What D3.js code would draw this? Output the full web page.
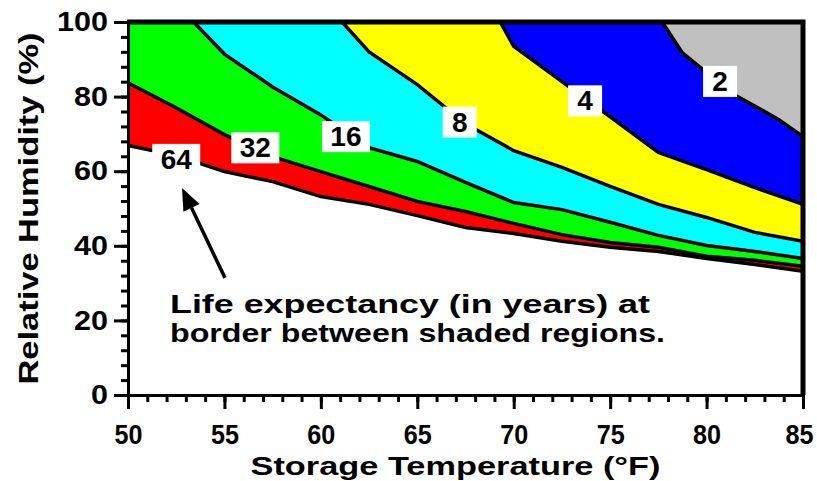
<!DOCTYPE html>
<html>
<head>
<meta charset="utf-8">
<script src="https://cdn.jsdelivr.net/npm/d3@7"></script>
<style>
body { margin: 0; background: #fff; }
svg { display: block; }
text { font-family: "Liberation Sans", Arial, sans-serif; font-weight: bold; }
</style>
</head>
<body>
<svg id="chart" width="817" height="481"></svg>
<script>
// life expectancy borders: temperature (F) -> relative humidity (%)
var temp64 = [50, 52.5, 55, 57.5, 60, 62.5, 65, 67.5, 70, 72.5, 75, 77.5, 80, 82.5, 85];
var rh64   = [66.9, 64.2, 59.9, 57.2, 53.2, 51.1, 48.1, 44.9, 43.3, 41.2, 39.6, 38.5, 36.6, 35.0, 33.2];
var temp32 = [50, 52.5, 55, 57.5, 60, 62.5, 65, 67.5, 70, 72.5, 75, 77.5, 80, 82.5, 85];
var rh32   = [83.7, 77.0, 69.8, 63.9, 59.9, 55.9, 51.9, 49.2, 46.0, 43.0, 40.9, 39.6, 37.2, 36.1, 34.5];
var temp16 = [53.4, 55, 57.5, 60, 62.5, 65, 67.5, 70, 72.5, 75, 77.5, 80, 82.5, 85];
var rh16   = [100, 91.4, 82.6, 75.1, 66.3, 62.6, 57.0, 51.6, 49.7, 46.3, 42.8, 40.1, 38.5, 36.6];
var temp8  = [61.1, 62.5, 65, 67.5, 70, 72.5, 75, 77.5, 80, 82.5, 85];
var rh8    = [100, 92.0, 83.2, 72.7, 65.5, 61.0, 55.9, 51.1, 47.6, 43.6, 41.2];
var temp4  = [69.3, 70, 72.5, 75, 77.5, 80, 82.5, 85];
var rh4    = [100, 93.5, 84.0, 74.6, 65.0, 60.4, 55.6, 51.1];
var temp2  = [77.7, 78.75, 80, 81.25, 82.5, 83.75, 85];
var rh2    = [100, 91.7, 86.4, 81.0, 77.5, 73.8, 69.3];

var lifeYears  = ["64", "32", "16", "8", "4", "2"];
var bandColors = ["#ff0000", "#00ff00", "#00ffff", "#ffff00", "#0000ff", "#c0c0c0"];
// where each number label sits (temperature, humidity)
var labelTemp = [52.5, 56.6, 61.3, 67.2, 73.7, 80.7];
var labelRh   = [63.3, 66.4, 69.4, 73.3, 79.0, 84.2];

var xTicks = [50, 55, 60, 65, 70, 75, 80, 85];
var yTicks = [0, 20, 40, 60, 80, 100];

var temps = [temp64, temp32, temp16, temp8, temp4, temp2];
var rhs = [rh64, rh32, rh16, rh8, rh4, rh2];
var curves = temps.map(function (t, i) {
    return t.map(function (v, j) { return {t: v, rh: rhs[i][j]}; });
});

var svg = d3.select("#chart");
var x = d3.scaleLinear().domain([50, 85]).range([128, 803]);
var y = d3.scaleLinear().domain([0, 100]).range([395, 22]);

svg.append("clipPath").attr("id", "plot")
    .append("rect")
    .attr("x", x(50)).attr("y", y(100))
    .attr("width", x(85) - x(50)).attr("height", y(0) - y(100));

var plot = svg.append("g").attr("clip-path", "url(#plot)");

var area = d3.area()
    .x(function (d) { return x(d.t); })
    .y0(y(100))
    .y1(function (d) { return y(d.rh); });
var line = d3.line()
    .x(function (d) { return x(d.t); })
    .y(function (d) { return y(d.rh); });

// each band painted from its lower border up to 100%
plot.selectAll("path.band")
    .data(curves)
    .enter()
    .append("path")
    .attr("class", "band")
    .attr("fill", function (d, i) { return bandColors[i]; })
    .attr("d", area);

plot.selectAll("path.border")
    .data(curves)
    .enter()
    .append("path")
    .attr("class", "border")
    .attr("fill", "none")
    .attr("stroke", "#000")
    .attr("stroke-width", 3.5)
    .attr("d", line);

// number labels in white boxes
var labels = svg.selectAll("g.lab")
    .data(lifeYears)
    .enter()
    .append("g")
    .attr("class", "lab")
    .attr("transform", function (d, i) {
        return "translate(" + x(labelTemp[i]) + "," + y(labelRh[i]) + ")";
    });
labels.append("rect")
    .attr("x", function (d) { return d.length > 1 ? -24 : -17; })
    .attr("y", -15)
    .attr("width", function (d) { return d.length > 1 ? 48 : 34; })
    .attr("height", 31)
    .attr("fill", "#fff");
labels.append("text")
    .attr("text-anchor", "middle")
    .attr("y", 10)
    .attr("font-size", 28)
    .text(function (d) { return d; });

// axes
function styleAxis(g, perDigit) {
    g.select(".domain").attr("stroke-width", 3);
    g.selectAll(".tick line").attr("stroke-width", 3);
    g.selectAll("text").attr("font-family", "Liberation Sans, Arial, sans-serif")
        .attr("font-weight", "bold").attr("font-size", 27).attr("fill", "#000")
        .attr("lengthAdjust", "spacingAndGlyphs")
        .attr("textLength", function () { return perDigit * this.textContent.length; });
}

svg.append("g")
    .attr("transform", "translate(" + x(50) + ",0)")
    .call(d3.axisLeft(y).tickValues(d3.range(0, 101, 4)).tickSize(7).tickFormat(""))
    .call(styleAxis, 0);
svg.append("g")
    .attr("transform", "translate(" + x(50) + ",0)")
    .call(d3.axisLeft(y).tickValues(yTicks).tickSize(14).tickPadding(6).tickSizeOuter(0))
    .call(styleAxis, 17);
svg.append("g")
    .attr("transform", "translate(0," + y(0) + ")")
    .call(d3.axisBottom(x).tickValues(d3.range(50, 86, 1)).tickSize(7).tickFormat(""))
    .call(styleAxis, 0);
var xAxisG = svg.append("g")
    .attr("transform", "translate(0," + y(0) + ")")
    .call(d3.axisBottom(x).tickValues(xTicks).tickSize(14).tickPadding(16).tickSizeOuter(0))
    .call(styleAxis, 14);
// keep the last label inside the page
xAxisG.selectAll(".tick text").filter(function (d) { return d === 85; }).attr("x", -4);

// frame top and right
svg.append("path")
    .attr("d", "M" + (x(50) - 1) + "," + y(100) + "H" + x(85) + "V" + y(0))
    .attr("fill", "none")
    .attr("stroke", "#000")
    .attr("stroke-width", 5);

svg.append("text")
    .attr("transform", "translate(38," + ((y(0) + y(100)) / 2) + ") rotate(-90)")
    .attr("text-anchor", "middle")
    .attr("font-size", 28)
    .attr("textLength", 352)
    .attr("lengthAdjust", "spacingAndGlyphs")
    .text("Relative Humidity (%)");

svg.append("text")
    .attr("x", (x(50) + x(85)) / 2 - 10)
    .attr("y", 475)
    .attr("text-anchor", "middle")
    .attr("font-size", 26)
    .attr("textLength", 410)
    .attr("lengthAdjust", "spacingAndGlyphs")
    .text("Storage Temperature (\u00b0F)");

// note and arrow
var note = svg.append("g");
note.append("text").attr("x", 170).attr("y", 313).attr("font-size", 25)
    .attr("textLength", 480).attr("lengthAdjust", "spacingAndGlyphs")
    .text("Life expectancy (in years) at");
note.append("text").attr("x", 170).attr("y", 342).attr("font-size", 25)
    .attr("textLength", 495).attr("lengthAdjust", "spacingAndGlyphs")
    .text("border between shaded regions.");

var tail = [x(55.03), y(31.4)], tip = [x(52.8), y(55.5)];
var ang = Math.atan2(tip[1] - tail[1], tip[0] - tail[0]);
var headLen = 22, headW = 9;
var base = [tip[0] - headLen * Math.cos(ang), tip[1] - headLen * Math.sin(ang)];
note.append("line")
    .attr("x1", tail[0]).attr("y1", tail[1])
    .attr("x2", base[0]).attr("y2", base[1])
    .attr("stroke", "#000").attr("stroke-width", 3.5);
note.append("path")
    .attr("d", "M" + tip[0] + "," + tip[1] +
        "L" + (base[0] + headW * Math.sin(ang)) + "," + (base[1] - headW * Math.cos(ang)) +
        "L" + (base[0] - headW * Math.sin(ang)) + "," + (base[1] + headW * Math.cos(ang)) + "Z")
    .attr("fill", "#000");
</script>
</body>
</html>
